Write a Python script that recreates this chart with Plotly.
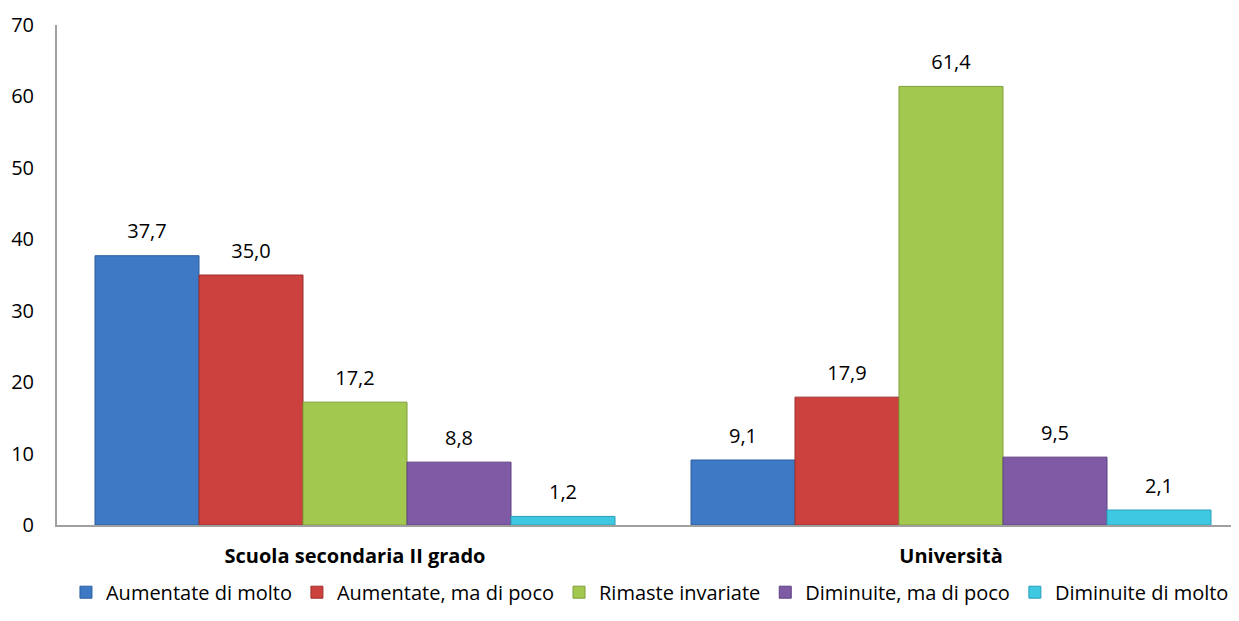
import plotly.graph_objects as go

categories = ["Scuola secondaria II grado", "Università"]
series_names = ["Aumentate di molto", "Aumentate, ma di poco", "Rimaste invariate",
                "Diminuite, ma di poco", "Diminuite di molto"]
aumentate_molto = [37.7, 9.1]
aumentate_poco = [35.0, 17.9]
rimaste = [17.2, 61.4]
diminuite_poco = [8.8, 9.5]
diminuite_molto = [1.2, 2.1]
series_values = [aumentate_molto, aumentate_poco, rimaste, diminuite_poco, diminuite_molto]
colors = ["#3d79c4", "#cc403d", "#a2c84f", "#7f5ba6", "#3ec8e2"]
edge_colors = ["#2d5f9e", "#9e2f2c", "#7f9f38", "#5f4282", "#2aa0b8"]
y_ticks = [0, 10, 20, 30, 40, 50, 60, 70]

FONT = "Open Sans"
fig = go.Figure()
for i, (name, vals) in enumerate(zip(series_names, series_values)):
    fig.add_trace(go.Bar(
        x=categories, y=vals, name=name, offsetgroup=str(i),
        marker=dict(color=colors[i], line=dict(color=edge_colors[i], width=1)),
        hoverinfo="skip",
    ))
for i, vals in enumerate(series_values):
    fig.add_trace(go.Scatter(
        x=categories, y=vals, mode="markers+text", offsetgroup=str(i),
        text=[f"{v:.1f}".replace(".", ",") for v in vals],
        textposition="top center",
        marker=dict(size=18, opacity=0),
        textfont=dict(family=FONT, size=20, color="#000000"),
        showlegend=False, hoverinfo="skip",
    ))

fig.update_layout(
    width=1231, height=613,
    paper_bgcolor="white", plot_bgcolor="white",
    margin=dict(l=49, r=4, t=17, b=96, autoexpand=False),
    barmode="group", bargap=0.1275, bargroupgap=0,
    scattermode="group", scattergap=0.1275,
    font=dict(family=FONT, size=20, color="#000000"),
    showlegend=True,
    legend=dict(orientation="h", xref="container", yref="container",
                x=0.5215, xanchor="center", y=0.047, yanchor="middle",
                font=dict(family=FONT, size=20), itemwidth=30, tracegroupgap=0),
    xaxis=dict(range=[-0.5, 1.4765], showline=True, linecolor="#a0a0a0", linewidth=2,
               showgrid=False, ticks="", ticklabelstandoff=12,
               tickfont=dict(family=FONT, size=20, weight="bold")),
    yaxis=dict(range=[0, 70], tickvals=y_ticks, showline=True, linecolor="#a0a0a0",
               linewidth=2, showgrid=False, zeroline=False, ticks="",
               ticklabelstandoff=17, tickfont=dict(family=FONT, size=20)),
)
fig.write_html("out.html")
